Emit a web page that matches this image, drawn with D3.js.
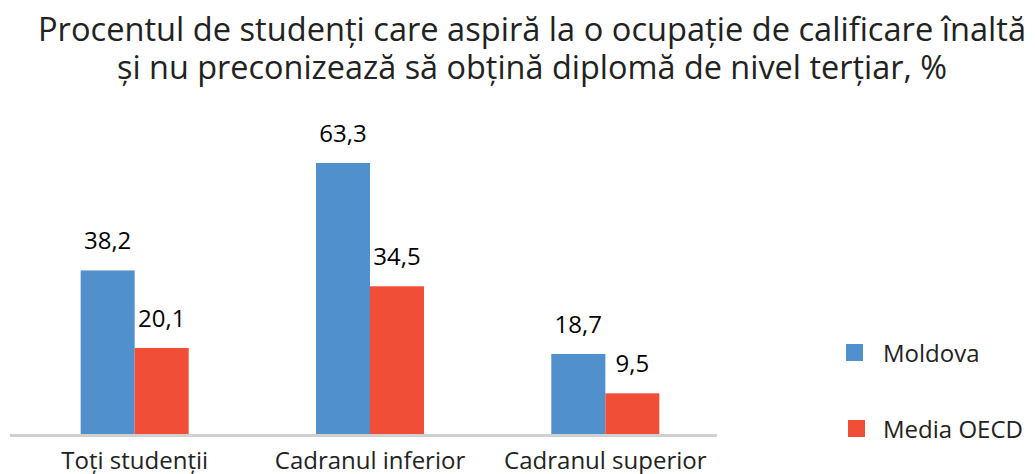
<!DOCTYPE html>
<html>
<head>
<meta charset="utf-8">
<script src="https://cdn.jsdelivr.net/npm/d3@7"></script>
<style>
  body { margin: 0; background: #fff; }
  text { font-family: "Open Sans", sans-serif; fill: #222; }
</style>
</head>
<body>
<div id="chart"></div>
<script>
var w = 1035;
var h = 474;

// data
var categories = ["Toți studenții", "Cadranul inferior", "Cadranul superior"];
var seriesNames = ["Moldova", "Media OECD"];
var moldova = [38.2, 63.3, 18.7];
var oecd = [20.1, 34.5, 9.5];
var colors = ["#4f90cd", "#f04e37"];
var titleLines = ["Procentul de studenți care aspiră la o ocupație de calificare înaltă",
                  "și nu preconizează să obțină diplomă de nivel terțiar, %"];
var titleWidths = [988, 830];

var svg = d3.select("#chart").append("svg")
  .attr("width", w)
  .attr("height", h);

var baseY = 434;

var x0 = d3.scaleBand().domain(categories).range([17, 723])
  .paddingInner(0.541).paddingOuter(0.2705);
var x1 = d3.scaleBand().domain(seriesNames).range([0, x0.bandwidth()]);
var y = d3.scaleLinear().domain([0, 63.3]).range([baseY, 163]);

// title, squeezed to look condensed
svg.selectAll(".title").data(titleLines).enter().append("text")
  .attr("class", "title")
  .attr("x", 532)
  .attr("y", function(d, i) { return 41 + i * 38; })
  .attr("text-anchor", "middle")
  .attr("textLength", function(d, i) { return titleWidths[i]; })
  .attr("lengthAdjust", "spacingAndGlyphs")
  .style("font-size", "32px")
  .text(function(d) { return d; });

var rows = categories.map(function(c, i) {
  return [{s: seriesNames[0], v: moldova[i]}, {s: seriesNames[1], v: oecd[i]}];
});

var g = svg.selectAll(".grp").data(rows).enter().append("g")
  .attr("transform", function(d, i) { return "translate(" + x0(categories[i]) + ",0)"; });

g.selectAll("rect").data(function(d) { return d; }).enter().append("rect")
  .attr("x", function(d) { return x1(d.s); })
  .attr("y", function(d) { return y(d.v); })
  .attr("width", x1.bandwidth())
  .attr("height", function(d) { return baseY - y(d.v); })
  .attr("fill", function(d, i) { return colors[i]; });

g.selectAll(".val").data(function(d) { return d; }).enter().append("text")
  .attr("class", "val")
  .attr("x", function(d) { return x1(d.s) + x1.bandwidth() / 2; })
  .attr("y", function(d) { return y(d.v) - 21; })
  .attr("text-anchor", "middle")
  .style("font-size", "24px")
  .style("fill", "#000")
  .text(function(d) { return String(d.v).replace(".", ","); });

// axis line
svg.append("line")
  .attr("x1", 10).attr("x2", 717)
  .attr("y1", baseY + 1.5).attr("y2", baseY + 1.5)
  .attr("stroke", "#d0d0d0").attr("stroke-width", 3);

svg.selectAll(".cat").data(categories).enter().append("text")
  .attr("class", "cat")
  .attr("x", function(d) { return x0(d) + x0.bandwidth() / 2; })
  .attr("y", 469)
  .attr("text-anchor", "middle")
  .style("font-size", "24px")
  .text(function(d) { return d; });

// legend
var leg = svg.selectAll(".leg").data(seriesNames).enter().append("g")
  .attr("transform", function(d, i) { return "translate(" + (846 + i * 2) + "," + (344 + i * 76) + ")"; });
leg.append("rect").attr("width", 17).attr("height", 17)
  .attr("fill", function(d, i) { return colors[i]; });
leg.append("text")
  .attr("x", function(d, i) { return 37 - i * 2; })
  .attr("y", 18)
  .style("font-size", "24px")
  .text(function(d) { return d; });
</script>
</body>
</html>
